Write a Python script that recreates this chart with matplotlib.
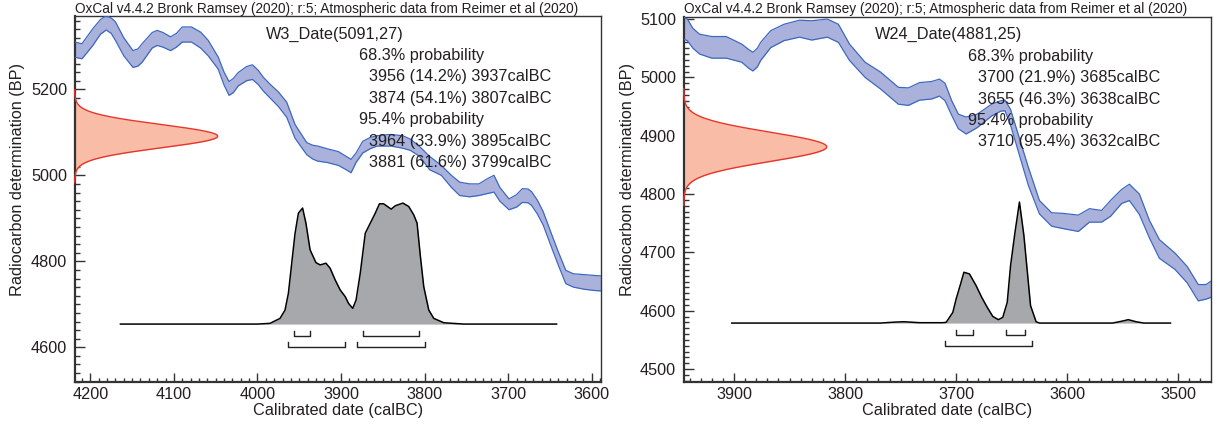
import matplotlib.pyplot as plt
import numpy as np
from matplotlib.ticker import MultipleLocator

plt.rcParams['font.family'] = ['Liberation Sans', 'DejaVu Sans']

TITLE = "OxCal v4.4.2 Bronk Ramsey (2020); r:5; Atmospheric data from Reimer et al (2020)"

# ---------------- W3 ----------------
w3_name = "W3_Date(5091,27)"
w3_date = (5091, 27)
w3_r68 = [(3956, 14.2, 3937), (3874, 54.1, 3807)]
w3_r95 = [(3964, 33.9, 3895), (3881, 61.6, 3799)]

# calibration curve band (IntCal20)
w3_cal_years = [4219, 4210, 4197, 4188, 4181, 4175, 4170, 4160, 4149, 4143, 4138, 4126,
                4120, 4113, 4104, 4097, 4090, 4079, 4068, 4059, 4047, 4040, 4034, 4029,
                4023, 4013, 4006, 3999, 3993, 3985, 3975, 3965, 3955, 3941, 3934, 3928,
                3917, 3903, 3893, 3888, 3882, 3874, 3865, 3857, 3848, 3840, 3826, 3817,
                3806, 3794, 3780, 3768, 3758, 3746, 3735, 3724, 3717, 3710, 3699, 3690,
                3683, 3676, 3672, 3665, 3658, 3649, 3640, 3631, 3622, 3609, 3596, 3588]
w3_cal_upper = [5310, 5306, 5341, 5362, 5371, 5366, 5357, 5320, 5290, 5294, 5306, 5332,
                5337, 5332, 5322, 5330, 5345, 5345, 5333, 5314, 5275, 5240, 5218, 5225,
                5239, 5253, 5257, 5244, 5228, 5212, 5194, 5170, 5118, 5076, 5070, 5068,
                5062, 5055, 5043, 5037, 5052, 5079, 5088, 5092, 5094, 5095, 5092, 5084,
                5067, 5044, 5023, 5000, 4984, 4980, 4980, 4993, 5000, 4972, 4945, 4955,
                4969, 4968, 4962, 4942, 4915, 4868, 4822, 4779, 4771, 4769, 4767, 4766]
w3_cal_lower = [5275, 5271, 5302, 5328, 5338, 5330, 5314, 5278, 5251, 5254, 5263, 5296,
                5302, 5298, 5290, 5298, 5310, 5310, 5296, 5278, 5247, 5210, 5186, 5192,
                5208, 5220, 5223, 5211, 5196, 5180, 5160, 5135, 5086, 5048, 5038, 5033,
                5030, 5023, 5012, 5006, 5030, 5052, 5062, 5068, 5068, 5068, 5063, 5058,
                5044, 5013, 5000, 4972, 4953, 4950, 4953, 4958, 4961, 4940, 4920, 4926,
                4937, 4936, 4930, 4910, 4884, 4837, 4791, 4748, 4740, 4735, 4732, 4731]

# posterior (relative probability)
w3_post_years = [4164, 4000, 3985, 3973, 3967, 3963, 3959, 3955, 3951, 3946, 3942,
                 3937, 3930, 3925, 3918, 3913, 3907, 3901, 3895, 3891, 3886, 3882,
                 3877, 3871, 3865, 3859, 3854, 3849, 3840, 3835, 3826, 3819, 3813,
                 3809, 3805, 3801, 3795, 3789, 3777, 3753, 3642]
w3_post_prob = [0.0, 0.0, 0.006, 0.047, 0.116, 0.254, 0.503, 0.751, 0.917, 0.959, 0.834,
                0.613, 0.508, 0.489, 0.503, 0.461, 0.365, 0.282, 0.227, 0.171, 0.130, 0.199,
                0.420, 0.751, 0.834, 0.917, 0.994, 0.994, 0.950, 0.978, 1.0, 0.972, 0.903,
                0.834, 0.558, 0.309, 0.116, 0.047, 0.011, 0.0, 0.0]

# ---------------- W24 ----------------
w24_name = "W24_Date(4881,25)"
w24_date = (4881, 25)
w24_r68 = [(3700, 21.9, 3685), (3655, 46.3, 3638)]
w24_r95 = [(3710, 95.4, 3632)]

w24_cal_years = [3946, 3942, 3937, 3931, 3920, 3907, 3893, 3887, 3883, 3879, 3876, 3867,
                 3855, 3841, 3830, 3816, 3806, 3796, 3782, 3768, 3752, 3743, 3733, 3722,
                 3715, 3710, 3704, 3698, 3691, 3681, 3668, 3660, 3656, 3651, 3646, 3635,
                 3625, 3614, 3604, 3590, 3580, 3569, 3561, 3551, 3544, 3535, 3526, 3517,
                 3503, 3492, 3482, 3475, 3468]
w24_cal_upper = [5104, 5100, 5084, 5074, 5070, 5070, 5057, 5048, 5043, 5050, 5060, 5080,
                 5091, 5098, 5097, 5100, 5091, 5057, 5026, 5009, 4983, 4982, 4991, 4993,
                 4997, 4990, 4960, 4937, 4932, 4937, 4954, 4960, 4961, 4945, 4914, 4846,
                 4789, 4768, 4767, 4764, 4775, 4772, 4789, 4808, 4817, 4800, 4755, 4722,
                 4699, 4676, 4645, 4645, 4654]
w24_cal_lower = [5066, 5063, 5050, 5040, 5033, 5033, 5026, 5016, 5011, 5018, 5029, 5051,
                 5063, 5069, 5064, 5069, 5060, 5029, 5000, 4980, 4954, 4952, 4961, 4963,
                 4968, 4960, 4935, 4912, 4903, 4914, 4934, 4942, 4943, 4918, 4886, 4815,
                 4766, 4745, 4741, 4736, 4752, 4752, 4762, 4784, 4789, 4765, 4725, 4690,
                 4671, 4648, 4617, 4620, 4625]

w24_post_years = [3902, 3768, 3755, 3747, 3733, 3712, 3709, 3707, 3703, 3700, 3696,
                  3693, 3688, 3682, 3677, 3672, 3667, 3662, 3658, 3654, 3651, 3647,
                  3643, 3639, 3633, 3628, 3625, 3559, 3550, 3545, 3538, 3531, 3507]
w24_post_prob = [0.0, 0.0, 0.008, 0.011, 0.003, 0.003, 0.006, 0.033, 0.088, 0.199, 0.323,
                 0.420, 0.406, 0.309, 0.213, 0.130, 0.055, 0.028, 0.047, 0.171, 0.475, 0.751,
                 1.0, 0.724, 0.144, 0.011, 0.0, 0.0, 0.017, 0.028, 0.011, 0.0, 0.0]

W, H = 1214, 429
TXT = '#231f20'
CAL_FILL, CAL_EDGE = '#aab2dc', '#3d68c2'
GAUSS_FILL, GAUSS_EDGE = '#f9bca6', '#e8352b'
POST_FILL = '#a7a8ab'

fig = plt.figure(figsize=(W / 100, H / 100), dpi=100)


def panel(box, xlim, ylim, ymajor, yminor, post_base, name, date, r68, r95,
          cal_years, cal_up, cal_lo, post_years, post_prob, ylab_x, ylab_y):
    l, t, r, b = box
    ax = fig.add_axes([l / W, 1 - b / H, (r - l) / W, (b - t) / H])
    ax.set_xlim(*xlim)
    ax.set_ylim(*ylim)
    yr_px = (xlim[0] - xlim[1]) / (r - l)
    bp_px = (ylim[1] - ylim[0]) / (b - t)

    # calibration curve
    ax.fill_between(cal_years, cal_lo, cal_up, color=CAL_FILL, lw=0, zorder=2)
    ax.plot(cal_years, cal_up, color=CAL_EDGE, lw=0.9, zorder=3, solid_joinstyle='round')
    ax.plot(cal_years, cal_lo, color=CAL_EDGE, lw=0.9, zorder=3, solid_joinstyle='round')

    # radiocarbon date on the y axis
    mu, sd = date
    bp = np.linspace(mu - 4 * sd, mu + 4 * sd, 300)
    g = np.exp(-0.5 * ((bp - mu) / sd) ** 2)
    gx = xlim[0] - 143 * yr_px * g
    ax.fill_betweenx(bp, xlim[0], gx, color=GAUSS_FILL, lw=0, zorder=2)
    ax.plot(gx, bp, color=GAUSS_EDGE, lw=1.0, zorder=3, clip_on=False)

    # posterior
    py = np.array(post_years)
    pp = post_base + 121 * bp_px * np.array(post_prob)
    ax.fill_between(py, post_base, pp, color=POST_FILL, lw=0, zorder=4)
    ax.plot(py, pp, color='black', lw=1.1, zorder=5)

    # range brackets
    for rows, (top, bot) in zip([r68, r95], [(6.5, 11.7), (18.0, 23.3)]):
        y0 = post_base - top * bp_px
        y1 = post_base - bot * bp_px
        for a, _, z in rows:
            ax.plot([a, a, z, z], [y0, y1, y1, y0], color='#222222', lw=1.0, zorder=5)

    # texts
    lines = [(191, name), (284.3, '68.3% probability')]
    lines += [(294.6, f'{a} ({p}%) {z}calBC') for a, p, z in r68]
    lines += [(284.3, '95.4% probability')]
    lines += [(294.6, f'{a} ({p}%) {z}calBC') for a, p, z in r95]
    for i, (dx, s) in enumerate(lines):
        ax.text(dx / (r - l), 1 - (18 + 21.45 * i) / (b - t), s, transform=ax.transAxes,
                ha='left', va='center', fontsize=11.7, color=TXT, zorder=6)

    ax.annotate(TITLE, xy=(0, 1), xycoords='axes fraction', xytext=(0, 2.4),
                textcoords='offset points', ha='left', va='baseline', fontsize=9.8, color=TXT)

    # axes style
    ax.xaxis.set_major_locator(MultipleLocator(100))
    ax.xaxis.set_minor_locator(MultipleLocator(10))
    ax.yaxis.set_major_locator(MultipleLocator(ymajor))
    ax.yaxis.set_minor_locator(MultipleLocator(yminor))
    ax.tick_params(which='both', direction='in', colors='#333333', labelcolor=TXT,
                   labelsize=11.7, top=False, right=False)
    ax.tick_params(axis='x', which='major', length=6.8, width=1.0, pad=3.5)
    ax.tick_params(axis='x', which='minor', length=3.0, width=1.0)
    ax.tick_params(axis='y', which='major', length=7.2, width=1.0, pad=5.5)
    ax.tick_params(axis='y', which='minor', length=3.8, width=1.0)
    for side in ['left', 'bottom']:
        ax.spines[side].set_linewidth(1.6)
        ax.spines[side].set_color('#333333')
    for side in ['top', 'right']:
        ax.spines[side].set_linewidth(1.0)
        ax.spines[side].set_color('#333333')

    fig.text((l + r) / 2 / W, 1 - 411 / H, 'Calibrated date (calBC)', ha='center', va='center',
             fontsize=11.7, color=TXT)
    fig.text(ylab_x / W, 1 - ylab_y / H, 'Radiocarbon determination (BP)', ha='center',
             va='center', rotation=90, fontsize=11.7, color=TXT)
    return ax


panel((74.7, 16, 601, 382), (4218.7, 3588.9), (4519.3, 5370.5), 200, 20, 4654,
      w3_name, w3_date, w3_r68, w3_r95, w3_cal_years, w3_cal_upper, w3_cal_lower,
      w3_post_years, w3_post_prob, 18, 180)
panel((683.7, 16.7, 1210.7, 382), (3945.3, 3470.8), (4478, 5104), 100, 10, 4579,
      w24_name, w24_date, w24_r68, w24_r95, w24_cal_years, w24_cal_upper, w24_cal_lower,
      w24_post_years, w24_post_prob, 627, 180)

fig.savefig('out.png', dpi=100)
